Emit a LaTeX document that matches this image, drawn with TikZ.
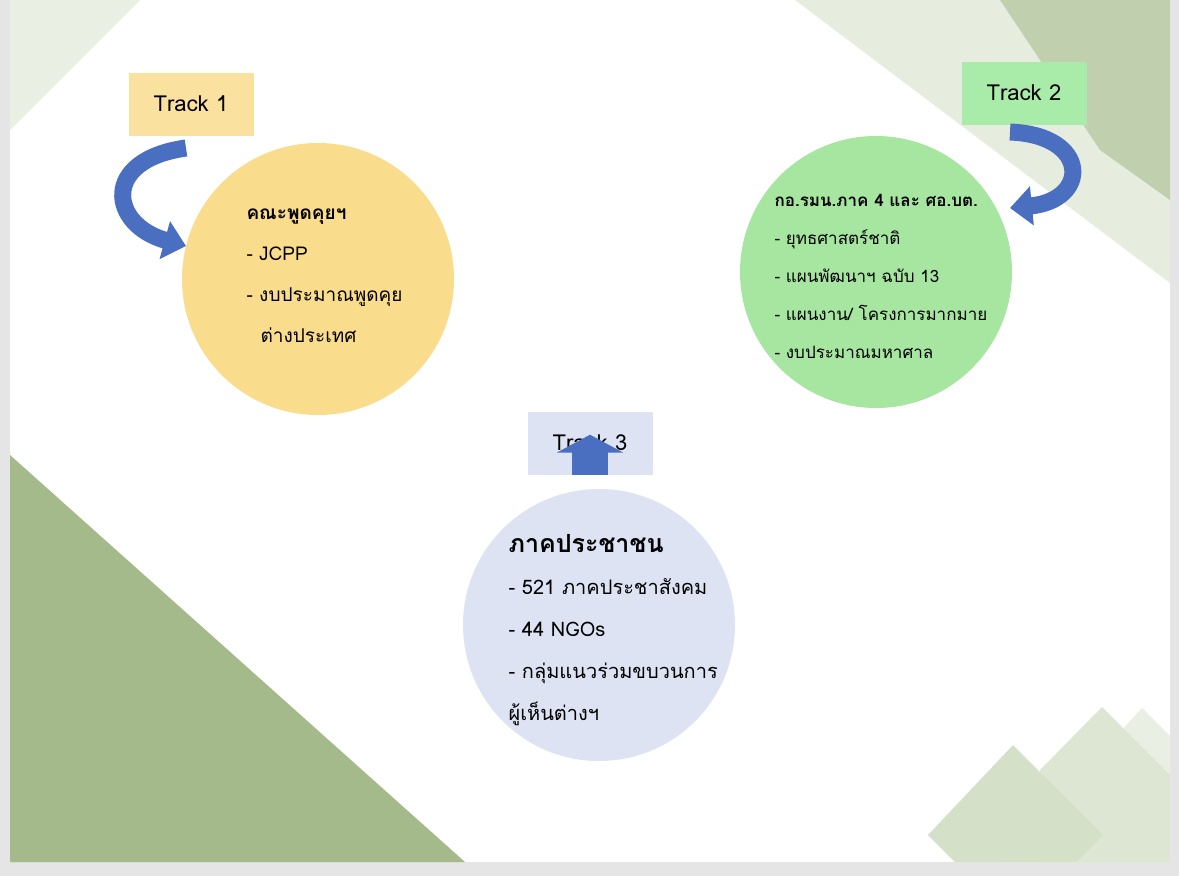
\documentclass[tikz,border=0pt]{standalone}
\usepackage{fontspec}
\setmainfont[Script=Thai]{Loma}
\usetikzlibrary{positioning,arrows.meta}
\definecolor{trackA}{HTML}{FBE1A0}
\definecolor{circA}{HTML}{F9DC8C}
\definecolor{trackB}{HTML}{A9EBA8}
\definecolor{circB}{HTML}{A7E6A1}
\definecolor{trackC}{HTML}{DDE3F3}
\definecolor{arrowblue}{HTML}{4A6FC0}
\definecolor{leaf}{HTML}{A5BA8B}
\definecolor{paleleaf}{HTML}{D5E0C8}
\begin{document}
\begin{tikzpicture}[x=1pt,y=-1pt,
    track/.style={rectangle, inner sep=0pt, minimum height=63pt,
                  minimum width=125pt, font=\fontsize{22}{26}\selectfont},
    bubble/.style={circle, inner sep=0pt, minimum size=272pt},
    items/.style={align=left, anchor=west, font=\fontsize{19}{41}\selectfont},
    curlarrow/.style={arrowblue, line width=17pt,
                 -{Triangle[length=22pt,width=38pt]}}]
    % Background
    \fill[gray!20] (0,0) rectangle (1179,876);
    \fill[white] (10,0) rectangle (1170,862);
    \fill[leaf] (10,455) -- (465,862) -- (10,862) -- cycle;
    \fill[paleleaf!60] (795,0) -- (1170,0) -- (1170,283) -- cycle;
    \fill[leaf!70] (1000,0) -- (1170,0) -- (1170,200) -- (1100,150) -- cycle;
    \fill[paleleaf!50] (10,0) -- (140,0) -- (10,130) -- cycle;
    \fill[paleleaf!50] (1142,708) -- (1170,736) -- (1170,862) -- (1000,862) -- cycle;
    \fill[paleleaf!80] (1102,707) -- (1170,775) -- (1170,862) -- (1040,862) -- (1040,770) -- cycle;
    \fill[paleleaf] (1013,745) -- (1103,835) -- (1076,862) -- (955,862) -- (928,835) -- cycle;

    % Nodes
    \node[track, fill=trackA] (t1) at (191,104) {Track 1};
    \node[track, fill=trackB] (t2) at (1024,93) {Track 2};
    \node[track, fill=trackC] (t3) at (590,443) {Track 3};
    \node[bubble, fill=circA] (c1) at (318,279) {};
    \node[bubble, fill=circB] (c2) at (876,272) {};
    \node[bubble, fill=trackC] (c3) at (599,625) {};
    \node[items] (l1) at (243,276) {\textbf{คณะพูดคุยฯ}\\- JCPP\\- งบประมาณพูดคุย\\\hspace*{14pt}ต่างประเทศ};
    \node[items, font=\fontsize{17}{38}\selectfont] (l2) at (771,276) {\textbf{กอ.รมน.ภาค 4 และ ศอ.บต.}\\- ยุทธศาสตร์ชาติ\\- แผนพัฒนาฯ ฉบับ 13\\- แผนงาน/ โครงการมากมาย\\- งบประมาณมหาศาล};
    \node[items, font=\fontsize{20}{42}\selectfont] (l3) at (505,630) {{\fontsize{25}{30}\selectfont\textbf{ภาคประชาชน}}\\- 521 ภาคประชาสังคม\\- 44 NGOs\\- กลุ่มแนวร่วมขบวนการ\\ผู้เห็นต่างฯ};

    % Arrows
    \coordinate (a1) at (186,148);
    \coordinate (b1) at (186,246);
    \coordinate (a2) at (1010,132);
    \coordinate (b2) at (1010,208);
    \draw[curlarrow] (a1) .. controls (100,160) and (110,225) .. (b1);
    \draw[curlarrow] (a2) .. controls (1090,135) and (1090,200) .. (b2);
    \draw[arrowblue, line width=36pt, -{Triangle[length=18pt,width=66pt]}]
        (t3.south) -- ([yshift=40pt]t3.south);
\end{tikzpicture}
\end{document}
